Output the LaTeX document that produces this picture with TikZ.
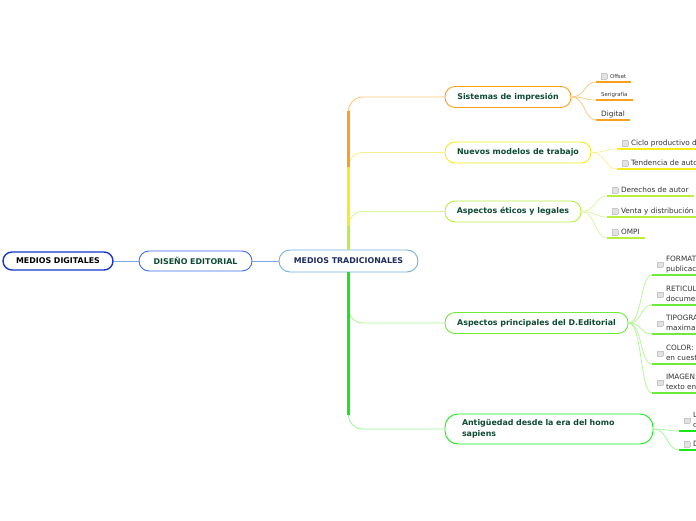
\documentclass[tikz,border=0pt]{standalone}
\usepackage{fontspec}
\setmainfont{DejaVu Sans}
\usepackage{xcolor}
\usetikzlibrary{calc}

\definecolor{digblue}{HTML}{1538C8}
\definecolor{edblue}{HTML}{3A6CF0}
\definecolor{tradblue}{HTML}{72B0E2}
\definecolor{linkblue}{HTML}{7FA8F0}
\definecolor{navyT}{HTML}{1B2B5B}
\definecolor{topicT}{HTML}{0E4B33}
\definecolor{leafT}{HTML}{333333}
\definecolor{orangeD}{HTML}{F7A021}
\definecolor{orangeL}{HTML}{FCC57A}
\definecolor{yellowD}{HTML}{F5EC1A}
\definecolor{yellowL}{HTML}{F8F08A}
\definecolor{limeD}{HTML}{B8EE3C}
\definecolor{limeL}{HTML}{D6F79A}
\definecolor{greenD}{HTML}{6EEA3A}
\definecolor{greenL}{HTML}{B0F590}
\definecolor{brightD}{HTML}{18E818}
\definecolor{brightL}{HTML}{9CF59C}
\definecolor{chkline}{HTML}{C8C8C8}
\definecolor{chkfill}{HTML}{E2E2E2}

\newcommand{\chk}{{\setlength{\fboxsep}{0pt}\setlength{\fboxrule}{0.4pt}\fcolorbox{chkline}{chkfill}{\rule{0pt}{5pt}\rule{5pt}{0pt}}}\hspace{3pt}}
\newcommand{\chkk}[2]{\raisebox{4.6pt}{\chk}\begin{tabular}[b]{@{}l@{}}#1\\#2\end{tabular}}

\tikzset{
  topic/.style={draw, fill=white, rounded corners=10pt, line width=0.9pt, minimum height=21pt, inner sep=0pt, font=\fontsize{7.9}{9.5}\selectfont\bfseries, text=topicT},
  leaf/.style={anchor=south west, inner xsep=5pt, inner ysep=1.5pt, text depth=1.5pt, font=\fontsize{7.3}{10}\selectfont, text=leafT},
  tiny/.style={font=\fontsize{5.4}{6}\selectfont},
  uline/.style={line width=2.2pt},
  twig/.style={line width=0.7pt},
  trunk/.style={line width=2.3pt},
  branch/.style={line width=0.9pt, rounded corners=14pt}
}

\begin{document}
\begin{tikzpicture}[x=1pt, y=-1pt]
  \useasboundingbox (0,0) rectangle (696,520);
  \clip (0,0) rectangle (696,520);

  \node [topic, draw=digblue, line width=1.4pt, minimum width=110pt, minimum height=18pt, rounded corners=9pt, text=black] (MD) at (58,261) {MEDIOS DIGITALES};
  \node [topic, draw=edblue, minimum width=113pt, minimum height=20pt] (DE) at (195.5,261) {DISEÑO EDITORIAL};
  \node [topic, draw=tradblue, minimum width=139pt, minimum height=22pt, rounded corners=11pt, text=navyT] (MT) at (348.5,261) {MEDIOS TRADICIONALES};

  \node [topic, draw=orangeD, minimum width=126pt] (SI) at (508,97) {Sistemas de impresión};
  \node [topic, draw=yellowD, minimum width=146pt] (NM) at (518,152.5) {Nuevos modelos de trabajo};
  \node [topic, draw=limeD, minimum width=136pt] (AE) at (513,211.5) {Aspectos éticos y legales};
  \node [topic, draw=greenD, minimum width=183pt] (AP) at (536.5,323) {Aspectos principales del D.Editorial};
  \node [topic, draw=brightD, minimum height=30pt, rounded corners=13pt, text width=174pt, inner xsep=17pt, align=left, font=\fontsize{7.9}{11.5}\selectfont\bfseries] (AN) at (549,429) {Antigüedad desde la era del homo\\sapiens};

  \node [leaf, tiny] (SIa) at (596,82) {\chk Offset};
  \node [leaf, tiny] (SIb) at (596,100) {Serigrafía};
  \node [leaf] (SIc) at (596,120) {Digital};
  \node [leaf] (NMa) at (617,149) {\chk Ciclo productivo del libro};
  \node [leaf] (NMb) at (617,169) {\chk Tendencia de autoedición};
  \node [leaf] (AEa) at (607,196) {\chk Derechos de autor};
  \node [leaf] (AEb) at (607,217) {\chk Venta y distribución};
  \node [leaf] (AEc) at (607,238) {\chk OMPI};
  \node [leaf] (APa) at (652,275) {\chkk{FORMATO: tamaño de la}{publicación}};
  \node [leaf] (APb) at (652,305) {\chkk{RETICULA: estructura del}{documento}};
  \node [leaf] (APc) at (652,334) {\chkk{TIPOGRAFÍA: legibilidad}{maxima}};
  \node [leaf] (APd) at (652,364) {\chkk{COLOR: significado}{en cuestión}};
  \node [leaf] (APe) at (652,393) {\chkk{IMAGEN: acompaña al}{texto en la página}};
  \node [leaf] (ANa) at (679,431) {\chkk{Lenguaje}{comunicación}};
  \node [leaf] (ANb) at (679,450) {\chk Difusión};

  \draw [linkblue, line width=0.7pt] (MD) -- (DE);
  \draw [linkblue, line width=0.7pt] (DE) -- (MT);

  \draw [branch, orangeL] (MT.north) |- (SI.west);
  \draw [branch, yellowL] (MT.north) |- (NM.west);
  \draw [branch, limeL] (MT.north) |- (AE.west);
  \draw [branch, greenL] (MT.south) |- (AP.west);
  \draw [branch, brightL] (MT.south) |- (AN.west);
  \draw [trunk, orangeD] (MT.north) -- ($(MT.north |- SI.west)+(0,14)$);
  \draw [trunk, yellowD] (MT.north) -- ($(MT.north |- NM.west)+(0,14)$);
  \draw [trunk, limeD] (MT.north) -- ($(MT.north |- AE.west)+(0,14)$);
  \draw [trunk, greenD] (MT.south) -- ($(MT.south |- AP.west)+(0,-14)$);
  \draw [trunk, brightD] (MT.south) -- ($(MT.south |- AN.west)+(0,-14)$);

  \draw [twig, orangeL] (SI.east) .. controls +(14,0) and +(-12,0) .. (SIa.south west);
  \draw [twig, orangeL] (SI.east) .. controls +(14,0) and +(-12,0) .. (SIb.south west);
  \draw [twig, orangeL] (SI.east) .. controls +(14,0) and +(-12,0) .. (SIc.south west);
  \draw [twig, yellowL] (NM.east) .. controls +(14,0) and +(-12,0) .. (NMa.south west);
  \draw [twig, yellowL] (NM.east) .. controls +(14,0) and +(-12,0) .. (NMb.south west);
  \draw [twig, limeL] (AE.east) .. controls +(14,0) and +(-12,0) .. (AEa.south west);
  \draw [twig, limeL] (AE.east) .. controls +(14,0) and +(-12,0) .. (AEb.south west);
  \draw [twig, limeL] (AE.east) .. controls +(14,0) and +(-12,0) .. (AEc.south west);
  \draw [twig, greenL] (AP.east) .. controls +(14,0) and +(-12,0) .. (APa.south west);
  \draw [twig, greenL] (AP.east) .. controls +(14,0) and +(-12,0) .. (APb.south west);
  \draw [twig, greenL] (AP.east) .. controls +(14,0) and +(-12,0) .. (APc.south west);
  \draw [twig, greenL] (AP.east) .. controls +(14,0) and +(-12,0) .. (APd.south west);
  \draw [twig, greenL] (AP.east) .. controls +(14,0) and +(-12,0) .. (APe.south west);
  \draw [twig, brightL] (AN.east) .. controls +(14,0) and +(-12,0) .. (ANa.south west);
  \draw [twig, brightL] (AN.east) .. controls +(14,0) and +(-12,0) .. (ANb.south west);

  \draw [uline, orangeD] (SIa.south west) -- (SIa.south east);
  \draw [uline, orangeD] (SIb.south west) -- (SIb.south east);
  \draw [uline, orangeD] (SIc.south west) -- (SIc.south east);
  \draw [uline, yellowD] (NMa.south west) -- (NMa.south east);
  \draw [uline, yellowD] (NMb.south west) -- (NMb.south east);
  \draw [uline, limeD] (AEa.south west) -- (AEa.south east);
  \draw [uline, limeD] (AEb.south west) -- (AEb.south east);
  \draw [uline, limeD] (AEc.south west) -- (AEc.south east);
  \draw [uline, greenD] (APa.south west) -- (APa.south east);
  \draw [uline, greenD] (APb.south west) -- (APb.south east);
  \draw [uline, greenD] (APc.south west) -- (APc.south east);
  \draw [uline, greenD] (APd.south west) -- (APd.south east);
  \draw [uline, greenD] (APe.south west) -- (APe.south east);
  \draw [uline, brightD] (ANa.south west) -- (ANa.south east);
  \draw [uline, brightD] (ANb.south west) -- (ANb.south east);
\end{tikzpicture}
\end{document}
